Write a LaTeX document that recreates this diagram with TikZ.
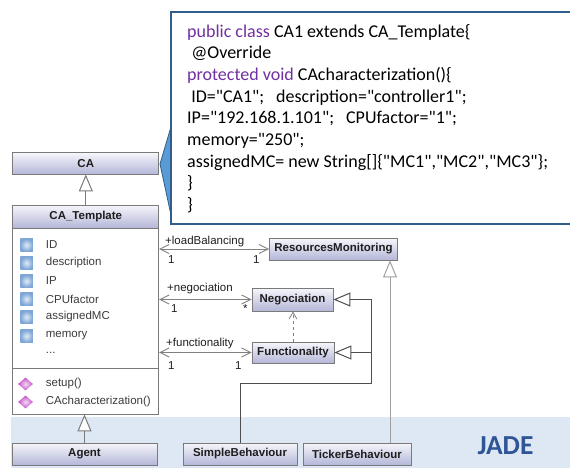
\documentclass[tikz,border=0pt]{standalone}
\usepackage{fontspec}
\setmainfont{Carlito}[Ligatures=TeXOff]
\newfontfamily\umlfont{Liberation Sans}
\usetikzlibrary{arrows.meta,shapes.geometric}

\definecolor{bandblue}{HTML}{DDE8F4}
\definecolor{hdtop}{HTML}{F6F6FB}
\definecolor{hdbot}{HTML}{B4B7D8}
\definecolor{umlborder}{HTML}{7A7A7A}
\definecolor{umltext}{HTML}{1E1E1E}
\definecolor{attrtext}{HTML}{3C3C3C}
\definecolor{attrblue}{HTML}{6E9CD2}
\definecolor{methpink}{HTML}{C450C8}
\definecolor{assocgrey}{HTML}{808080}
\definecolor{gendark}{HTML}{4E4E4E}
\definecolor{genlight}{HTML}{A0A0A0}
\definecolor{calloutedge}{HTML}{2F5D8C}
\definecolor{calloutfill}{HTML}{5B9BD5}
\definecolor{keyword}{HTML}{7030A0}
\definecolor{jadeblue}{HTML}{2F5597}

\begin{document}
\begin{tikzpicture}[x=1pt,y=-1pt,
  cls/.style={draw=umlborder, line width=0.8pt, top color=hdtop, bottom color=hdbot,
    font=\umlfont\bfseries\fontsize{11.5}{13}\selectfont, text=umltext, inner sep=0pt},
  attricon/.style={rectangle, minimum size=12.5pt, inner sep=0pt,
    inner color=attrblue!20, outer color=attrblue!90},
  methicon/.style={diamond, minimum width=15pt, minimum height=13pt, inner sep=0pt,
    inner color=methpink!20, outer color=methpink},
  member/.style={anchor=west, inner sep=0pt, text=attrtext,
    font=\umlfont\fontsize{11.5}{13}\selectfont},
  lbl/.style={anchor=base west, inner sep=0pt, text=umltext,
    font=\umlfont\fontsize{11.5}{13}\selectfont},
  assoc/.style={draw=assocgrey, line width=0.9pt,
    {Straight Barb[length=9pt,width=9pt]}-{Straight Barb[length=9pt,width=9pt]}},
  gen/.style={line width=1pt, -{Triangle[open,length=17pt,width=14pt,fill=white]}},
  dep/.style={draw=assocgrey, line width=0.8pt, dashed, -{Straight Barb[length=7pt,width=8pt]}},
  codeline/.style={anchor=base west, inner sep=0pt, font=\fontsize{18}{21}\selectfont}
]
\useasboundingbox (0,0) rectangle (570,468);

% JADE band
\fill[bandblue] (11,417) rectangle (575,470);
\node[font=\bfseries\fontsize{27.5}{30}\selectfont, text=jadeblue, inner sep=0pt] (jade) at (505.5,446) {JADE};

% callout with the concrete class code
\filldraw[fill=calloutfill, draw=calloutedge, line width=0.8pt, line join=round]
  (171.5,125) -- (160,164) -- (172.5,222) -- cycle;
\draw[calloutedge, line width=2pt, fill=white] (171,12) rectangle (585,224);
\node[codeline] (code1) at (187,37.5) {\textcolor{keyword}{public class} CA1 extends CA\_Template\{};
\node[codeline] (code2) at (187,59) {\ @Override};
\node[codeline] (code3) at (187,80.6) {\textcolor{keyword}{protected void} CAcharacterization()\{};
\node[codeline] (code4) at (187,102.2) {\ ID="CA1";\hspace{12pt}description="controller1";};
\node[codeline] (code5) at (187,123.8) {IP="192.168.1.101";\hspace{12pt}CPUfactor="1";};
\node[codeline] (code6) at (187,145.4) {memory="250";};
\node[codeline] (code7) at (187,167) {assignedMC= new String[]\{"MC1","MC2","MC3"\};};
\node[codeline] (code8) at (187,188.6) {\}};
\node[codeline] (code9) at (187,210.2) {\}};

% CA class
\node[cls, minimum width=146pt, minimum height=21.5pt] (ca) at (85.8,163.3) {CA};

% CA_Template class
\node[draw=umlborder, line width=0.8pt, fill=white, minimum width=146pt, minimum height=186pt,
  inner sep=0pt] (tplbody) at (85.8,321) {};
\node[cls, minimum width=146pt, minimum height=23pt] (tplhead) at (85.8,216.5) {CA\_Template};
\draw[umlborder, line width=0.8pt] (tplbody.west |- 0,368) coordinate (divl) -- (divl -| tplbody.east);

\node[attricon] (i1) at (26.5,245) {};
\node[attricon] (i2) at (26.5,263) {};
\node[attricon] (i3) at (26.5,281) {};
\node[attricon] (i4) at (26.5,299) {};
\node[attricon] (i5) at (26.5,317) {};
\node[attricon] (i6) at (26.5,336) {};
\node[member] (a1) at (45.7,245) {ID};
\node[member] (a2) at (45.7,263) {description};
\node[member] (a3) at (45.7,281) {IP};
\node[member] (a4) at (45.7,299) {CPUfactor};
\node[member] (a5) at (45.7,317) {assignedMC};
\node[member] (a6) at (45.7,336) {memory};
\node[member] (a7) at (45.7,353) {...};
\node[methicon] (m1) at (25.5,384) {};
\node[methicon] (m2) at (25.5,402) {};
\node[member] (o1) at (45.7,384) {setup()};
\node[member] (o2) at (45.7,402) {CAcharacterization()};

% behaviour classes
\node[cls, minimum width=128pt, minimum height=22pt] (rm) at (333.5,249) {ResourcesMonitoring};
\node[cls, minimum width=81pt, minimum height=23pt] (neg) at (292.5,299.5) {Negociation};
\node[cls, minimum width=82pt, minimum height=21pt] (func) at (293,352.5) {Functionality};

% JADE classes
\node[cls, minimum width=145pt, minimum height=22pt] (agent) at (84.5,454) {Agent};
\node[cls, minimum width=114pt, minimum height=22pt] (sb) at (240,454) {SimpleBehaviour};
\node[cls, minimum width=108pt, minimum height=22pt] (tb) at (357,454) {TickerBehaviour};

% generalisations
\draw[gen, draw=umlborder] (tplhead.north) -- (ca.south);
\draw[gen, draw=umlborder] (agent.north) -- (agent.north |- tplbody.south);
\coordinate (knee) at (371.5,383);
\draw[gen, draw=gendark] (sb.north) |- (knee) -- (knee |- neg.east) -- (neg.east);
\draw[gen, draw=gendark] (knee |- func.east) -- (func.east);
\coordinate (tbx) at (390,0);
\draw[gen, draw=genlight] (tb.north -| tbx) -- (rm.south -| tbx);

% associations
\draw[assoc] (tplbody.east |- rm.west) -- (rm.west);
\draw[assoc] (tplbody.east |- neg.west) -- (neg.west);
\draw[assoc] (tplbody.east |- func.west) -- (func.west);
\coordinate (depx) at (293,0);
\draw[dep] (func.north -| depx) -- (neg.south -| depx);

% association labels
\node[lbl] (l1) at (165,244) {+loadBalancing};
\node[lbl] (l1a) at (168,263) {1};
\node[lbl] (l1b) at (253,263) {1};
\node[lbl] (l2) at (167,291) {+negociation};
\node[lbl] (l2a) at (171,312) {1};
\node[lbl] (l2b) at (243,312) {*};
\node[lbl] (l3) at (166,346) {+functionality};
\node[lbl] (l3a) at (168,369) {1};
\node[lbl] (l3b) at (235,369) {1};
\end{tikzpicture}
\end{document}
